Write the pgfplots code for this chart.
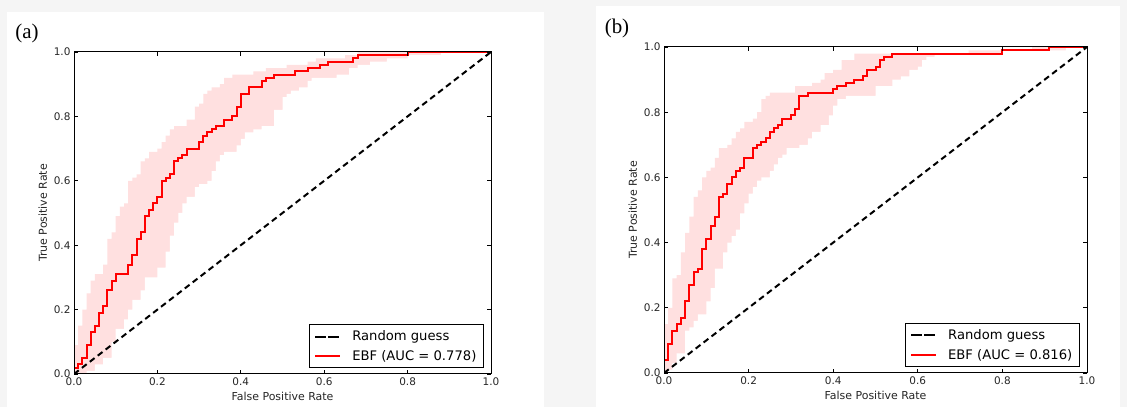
\documentclass[border=0pt]{standalone}
\usepackage{fontspec}
\setmainfont{DejaVu Sans}
\newfontfamily\panelfont{Liberation Serif}
\usepackage{pgfplots}
\pgfplotsset{compat=1.18}

\definecolor{bandred}{RGB}{255,224,224}
\definecolor{bggrey}{RGB}{245,245,245}

\pgfplotsset{
  rocaxis/.style={
    scale only axis,
    anchor=south west,
    axis on top,
    xmin=0, xmax=1, ymin=0, ymax=1,
    xtick={0,0.2,0.4,0.6,0.8,1}, ytick={0,0.2,0.4,0.6,0.8,1},
    xticklabels={0.0,0.2,0.4,0.6,0.8,1.0},
    yticklabels={0.0,0.2,0.4,0.6,0.8,1.0},
    tick align=inside, major tick length=4bp,
    tick style={black, line width=0.8bp},
    axis line style={black, line width=1bp},
    tick label style={font=\fontsize{10.5}{12}\selectfont, text=black!85},
    label style={font=\fontsize{11}{13}\selectfont, text=black!85},
    xlabel={False Positive Rate}, ylabel={True Positive Rate},
    legend cell align=left,
    legend style={at={(0.983,0.018)}, anchor=south east, draw=black,
      line width=1bp, fill=white,
      font=\fontsize{13.2}{15}\selectfont, inner xsep=5bp, inner ysep=4bp,
      /tikz/row sep=4bp, /tikz/column sep=9bp},
    legend image code/.code={
      \path (0bp,0bp) -- (25bp,0bp);
      \draw[##1] (3bp,0bp) -- (25bp,0bp);},
  },
  guess/.style={black, line width=2bp, dash pattern=on 6bp off 4bp, forget plot},
  ebf/.style={red, line width=2bp, const plot mark left},
  upband/.style={draw=none, fill=bandred, const plot mark left, forget plot},
  loband/.style={draw=none, fill=white, const plot mark left, forget plot},
}

\begin{document}
\begin{tikzpicture}
\fill[bggrey] (0,0) rectangle (1127bp,407bp);
\fill[white] (7bp,0) rectangle (544bp,395bp);
\fill[white] (596bp,0) rectangle (1120bp,401bp);
\node[font=\panelfont\fontsize{21}{23}\selectfont] at (27bp,374bp) {(a)};
\node[font=\panelfont\fontsize{21}{23}\selectfont] at (617bp,379bp) {(b)};

% (a)
\begin{axis}[rocaxis, at={(74bp,33bp)}, width=417bp, height=322bp]
\addplot[upband] coordinates {
  (0,0.09) (0.01,0.15) (0.02,0.20) (0.03,0.25) (0.04,0.29) (0.05,0.31) (0.07,0.34)
  (0.08,0.42) (0.09,0.44) (0.10,0.49) (0.11,0.52) (0.12,0.53) (0.13,0.60) (0.14,0.61)
  (0.15,0.62) (0.16,0.66) (0.17,0.67) (0.18,0.69) (0.20,0.70) (0.21,0.72) (0.22,0.74)
  (0.23,0.76) (0.24,0.77) (0.27,0.79) (0.29,0.83) (0.30,0.84) (0.31,0.87) (0.32,0.88)
  (0.33,0.89) (0.35,0.90) (0.36,0.92) (0.38,0.93) (0.43,0.94) (0.46,0.95) (0.51,0.96)
  (0.56,0.97) (0.58,0.98) (0.65,0.99) (0.68,1.0) (1,1.0) } \closedcycle;
\addplot[loband] coordinates {
  (0,0) (0.03,0.01) (0.05,0.03) (0.07,0.05) (0.09,0.10) (0.10,0.14) (0.12,0.17)
  (0.13,0.20) (0.14,0.23) (0.16,0.26) (0.17,0.30) (0.20,0.33) (0.22,0.38) (0.23,0.43)
  (0.24,0.47) (0.25,0.50) (0.26,0.53) (0.27,0.55) (0.29,0.58) (0.30,0.59) (0.32,0.60)
  (0.33,0.63) (0.34,0.66) (0.35,0.68) (0.36,0.69) (0.39,0.71) (0.40,0.73) (0.41,0.75)
  (0.43,0.76) (0.45,0.77) (0.48,0.82) (0.50,0.86) (0.51,0.87) (0.52,0.88) (0.54,0.89)
  (0.56,0.91) (0.57,0.92) (0.63,0.93) (0.66,0.95) (0.68,0.96) (0.71,0.97) (0.75,0.98)
  (0.80,0.99) (0.88,1.0) (1,1.0) } \closedcycle;
\addplot[guess] coordinates {(0,0) (1,1)};
\addlegendimage{black, line width=2bp, dash pattern=on 8bp off 5bp}
\addlegendentry{Random guess}
\addplot[ebf] coordinates {
  (0,0) (0,0.02) (0.01,0.03) (0.02,0.05) (0.03,0.09) (0.04,0.13) (0.05,0.15) (0.06,0.19)
  (0.07,0.21) (0.08,0.26) (0.09,0.29) (0.10,0.31) (0.13,0.34) (0.14,0.37) (0.15,0.42)
  (0.16,0.44) (0.17,0.49) (0.18,0.51) (0.19,0.53) (0.20,0.55) (0.21,0.60) (0.22,0.61)
  (0.23,0.62) (0.24,0.66) (0.25,0.67) (0.26,0.68) (0.27,0.70) (0.30,0.72) (0.31,0.74)
  (0.32,0.75) (0.33,0.76) (0.34,0.77) (0.36,0.79) (0.38,0.80) (0.39,0.83) (0.40,0.87)
  (0.42,0.89) (0.45,0.91) (0.46,0.92) (0.48,0.93) (0.53,0.94) (0.56,0.95) (0.59,0.96)
  (0.61,0.97) (0.67,0.98) (0.68,0.99) (0.80,1.0) (1,1.0) };
\addlegendentry{EBF (AUC = 0.778)}
\end{axis}

% (b)
\begin{axis}[rocaxis, at={(664bp,34bp)}, width=423bp, height=326bp]
\addplot[upband] coordinates {
  (0,0.15) (0.01,0.20) (0.02,0.29) (0.03,0.30) (0.04,0.37) (0.05,0.43) (0.06,0.48)
  (0.07,0.54) (0.08,0.56) (0.09,0.60) (0.10,0.62) (0.11,0.63) (0.12,0.66) (0.13,0.69)
  (0.15,0.70) (0.16,0.72) (0.17,0.74) (0.18,0.75) (0.19,0.77) (0.21,0.78) (0.22,0.80)
  (0.23,0.84) (0.24,0.85) (0.25,0.86) (0.31,0.88) (0.35,0.89) (0.37,0.90) (0.38,0.92)
  (0.40,0.93) (0.42,0.96) (0.45,0.98) (0.72,0.99) (0.87,1.0) (1,1.0) } \closedcycle;
\addplot[loband] coordinates {
  (0,0) (0.01,0.01) (0.02,0.03) (0.03,0.06) (0.05,0.13) (0.06,0.14) (0.07,0.16)
  (0.08,0.18) (0.10,0.22) (0.11,0.26) (0.12,0.32) (0.14,0.37) (0.15,0.40) (0.16,0.42)
  (0.17,0.44) (0.18,0.49) (0.19,0.52) (0.20,0.55) (0.21,0.57) (0.22,0.59) (0.23,0.60)
  (0.25,0.62) (0.26,0.64) (0.27,0.66) (0.28,0.67) (0.29,0.69) (0.32,0.70) (0.34,0.72)
  (0.35,0.74) (0.37,0.76) (0.39,0.79) (0.40,0.82) (0.41,0.84) (0.43,0.85) (0.50,0.88)
  (0.54,0.90) (0.56,0.91) (0.58,0.93) (0.60,0.94) (0.61,0.96) (0.62,0.97) (0.64,0.98)
  (0.80,0.99) (0.95,1.0) (1,1.0) } \closedcycle;
\addplot[guess] coordinates {(0,0) (1,1)};
\addlegendimage{black, line width=2bp, dash pattern=on 8bp off 5bp}
\addlegendentry{Random guess}
\addplot[ebf] coordinates {
  (0,0) (0,0.04) (0.01,0.09) (0.02,0.13) (0.03,0.15) (0.04,0.17) (0.05,0.22) (0.06,0.27)
  (0.07,0.31) (0.08,0.32) (0.09,0.38) (0.10,0.41) (0.11,0.45) (0.12,0.48) (0.13,0.54)
  (0.14,0.55) (0.15,0.58) (0.16,0.60) (0.17,0.62) (0.18,0.63) (0.19,0.66) (0.21,0.69)
  (0.22,0.70) (0.23,0.71) (0.24,0.72) (0.25,0.74) (0.26,0.75) (0.27,0.76) (0.28,0.78)
  (0.30,0.79) (0.31,0.81) (0.32,0.85) (0.34,0.86) (0.40,0.87) (0.41,0.88) (0.43,0.89)
  (0.45,0.90) (0.47,0.91) (0.48,0.93) (0.50,0.94) (0.51,0.96) (0.52,0.97) (0.54,0.98)
  (0.80,0.99) (0.91,1.0) (1,1.0) };
\addlegendentry{EBF (AUC = 0.816)}
\end{axis}

\pgfresetboundingbox
\useasboundingbox (0,0) rectangle (1127bp,407bp);
\end{tikzpicture}
\end{document}
